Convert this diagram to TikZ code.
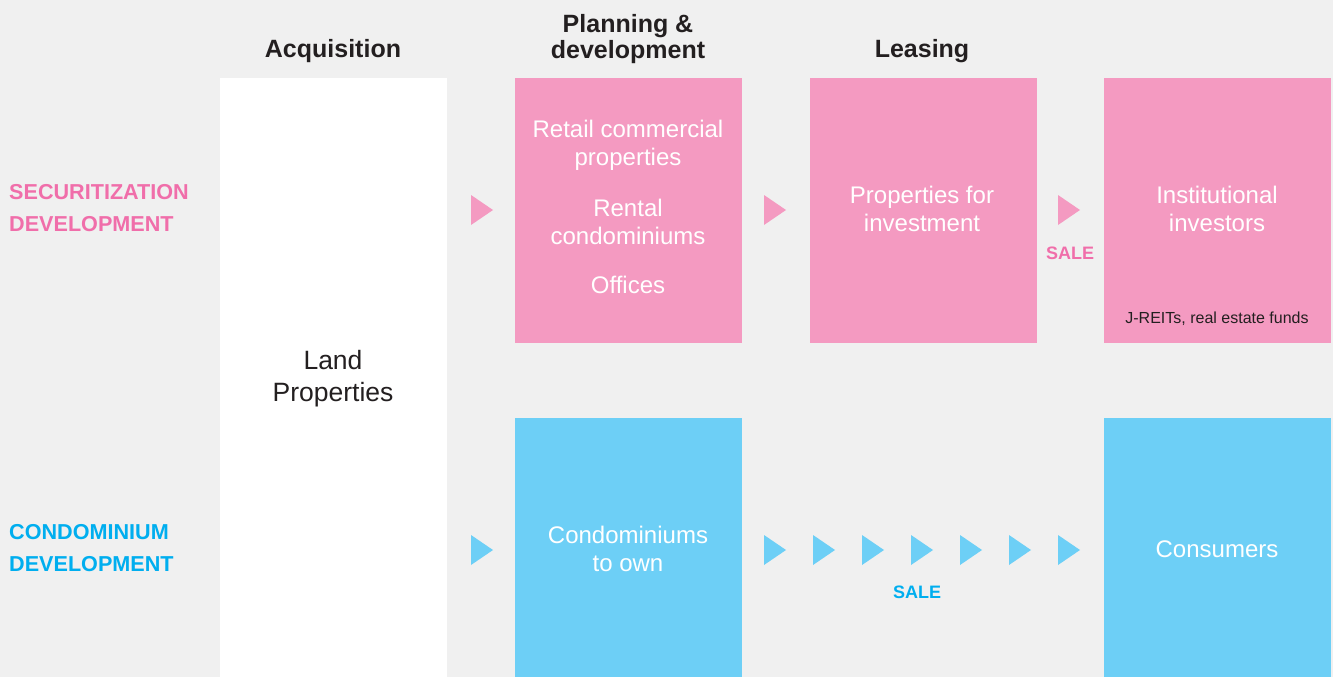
\documentclass[tikz,border=0pt]{standalone}
\usepackage{fontspec}
\setmainfont{Liberation Sans}
\definecolor{bg}{HTML}{F0F0F0}
\definecolor{boxpink}{HTML}{F49AC1}
\definecolor{boxblue}{HTML}{6DCFF6}
\definecolor{txtpink}{HTML}{F06EAA}
\definecolor{txtblue}{HTML}{00AEEF}
\definecolor{dark}{HTML}{231F20}
\begin{document}
\begin{tikzpicture}[x=1pt,y=-1pt,
  heading/.style={text=dark,font=\bfseries\fontsize{25}{26}\selectfont,align=center,inner sep=0},
  rowlab/.style={font=\bfseries\fontsize{21.6}{32}\selectfont,align=left,anchor=west,inner sep=0},
  boxtxt/.style={text=white,font=\fontsize{24}{27.5}\selectfont,align=center,inner sep=0},
  darktxt/.style={text=dark,font=\fontsize{26.5}{32}\selectfont,align=center,inner sep=0},
  saletxt/.style={font=\bfseries\fontsize{18}{20}\selectfont,inner sep=0},
  tri/.pic={\fill (0,-15) -- (22,0) -- (0,15) -- cycle;}]
\fill[bg] (0,0) rectangle (1333,677);
\useasboundingbox (0,0) rectangle (1333,677);
% columns and boxes
\fill[white] (220,78) rectangle (447,677);
\fill[boxpink] (515,78) rectangle (742,343);
\fill[boxpink] (810,78) rectangle (1037,343);
\fill[boxpink] (1104,78) rectangle (1331,343);
\fill[boxblue] (515,418) rectangle (742,677);
\fill[boxblue] (1104,418) rectangle (1331,677);
% headings
\node[heading] (hacq) at (333,51) {Acquisition};
\node[heading] (hplan) at (628,39) {Planning \&\\development};
\node[heading] (hlease) at (922,51) {Leasing};
% row labels
\node[rowlab,text=txtpink] (lsec) at (9,208.5) {SECURITIZATION\\DEVELOPMENT};
\node[rowlab,text=txtblue] (lcon) at (9,548.5) {CONDOMINIUM\\DEVELOPMENT};
% box texts
\node[darktxt] (land) at (333,379) {Land\\Properties};
\node[boxtxt] (retail) at (628,145.5) {Retail commercial\\properties};
\node[boxtxt] (rental) at (628,222) {Rental\\condominiums};
\node[boxtxt] (offices) at (628,284.5) {Offices};
\node[boxtxt] (invest) at (922,209) {Properties for\\investment};
\node[boxtxt] (inst) at (1217,209) {Institutional\\investors};
\node[text=dark,font=\fontsize{16}{18}\selectfont,inner sep=0] (jreit) at (1217,318.5) {J-REITs, real estate funds};
\node[boxtxt] (condo) at (628,549) {Condominiums\\to own};
\node[boxtxt] (cons) at (1217,549.5) {Consumers};
% triangles
\foreach \x in {471,764,1058} \pic[boxpink] at (\x,210) {tri};
\foreach \x in {471,764,813,862,911,960,1009,1058} \pic[boxblue] at (\x,550) {tri};
\node[saletxt,text=txtpink] (sale1) at (1070,253.5) {SALE};
\node[saletxt,text=txtblue] (sale2) at (917,592.5) {SALE};
\end{tikzpicture}
\end{document}
